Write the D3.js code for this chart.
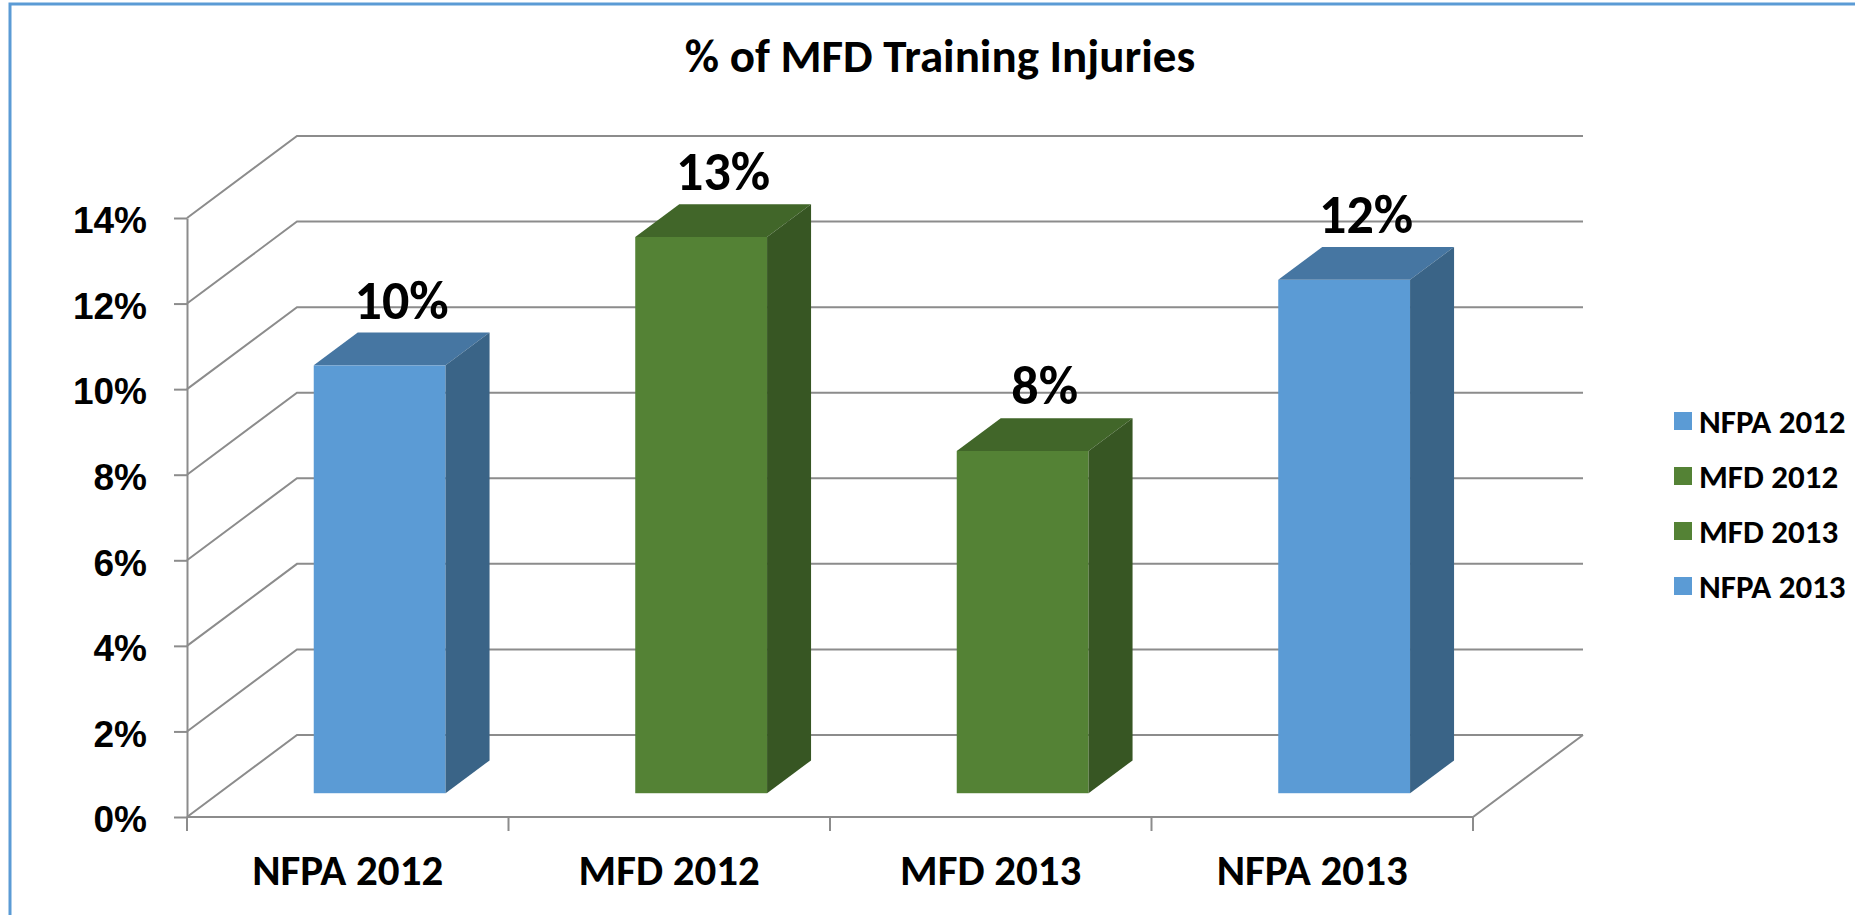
<!DOCTYPE html>
<html lang="en">
<head>
<meta charset="UTF-8" />
<title>% of MFD Training Injuries</title>
<script src="https://cdn.jsdelivr.net/npm/d3@7/dist/d3.min.js"></script>
<style>
  body { margin: 0; background: #fff; }
  svg { display: block; font-family: Carlito, Calibri, Lato, sans-serif; font-weight: 700; }
  .grid { stroke: #8c8c8c; stroke-width: 2; fill: none; }
  .y-axis path, .y-axis line { stroke: #8c8c8c; stroke-width: 2; }
  .y-axis text { font-size: 37px; fill: #000; font-weight: 700; }
  .x-label { font-size: 43px; }
  .bar-label { font-size: 54px; }
  .legend text { font-size: 33px; }
  .title { font-size: 47px; }
</style>
</head>
<body>
<svg id="chart" width="1855" height="915"></svg>
<script>
  // chart data
  const categories = ["NFPA 2012", "MFD 2012", "MFD 2013", "NFPA 2013"];
  const values = [0.10, 0.13, 0.08, 0.12];
  const yTicks = [0, 0.02, 0.04, 0.06, 0.08, 0.10, 0.12, 0.14];
  const barGroup = ["nfpa", "mfd", "mfd", "nfpa"];

  const palette = {
    nfpa: { front: "#5b9bd5", top: "#4676a2", side: "#3a6487" },
    mfd:  { front: "#548235", top: "#416629", side: "#375623" }
  };

  const svg = d3.select("#chart");
  const W = 1855, H = 915;

  // frame around the chart area (runs off right/bottom like the original)
  svg.append("rect")
    .attr("x", 10).attr("y", 4)
    .attr("width", W + 20).attr("height", H + 20)
    .attr("fill", "none").attr("stroke", "#5b9bd5").attr("stroke-width", 3);

  svg.append("text")
    .attr("class", "title")
    .attr("x", 940).attr("y", 72)
    .attr("text-anchor", "middle")
    .text("% of MFD Training Injuries");

  // front plane geometry + oblique depth vector
  const x0 = 187, x1 = 1473;
  const depth = { dx: 110, dy: -82 };
  const dz0 = 0.29, dz1 = 0.69;   // where the bars sit in depth

  const x = d3.scaleBand().domain(categories).range([x0, x1]).padding(0);
  const y = d3.scaleLinear().domain([0, 0.14]).range([817, 218]);

  const grid = svg.append("g");

  // back wall + side wall lines
  yTicks.forEach(t => {
    const yy = y(t);
    grid.append("path").attr("class", "grid")
      .attr("d", `M${x0},${yy}L${x0 + depth.dx},${yy + depth.dy}L${x1 + depth.dx},${yy + depth.dy}`);
  });
  // floor
  grid.append("path").attr("class", "grid")
    .attr("d", `M${x0},${y(0)}L${x1},${y(0)}L${x1 + depth.dx},${y(0) + depth.dy}`);

  // category tick marks
  d3.range(categories.length + 1).forEach(i => {
    const xx = x0 + i * x.bandwidth();
    grid.append("line").attr("class", "grid")
      .attr("x1", xx).attr("x2", xx)
      .attr("y1", y(0)).attr("y2", y(0) + 14);
  });

  // y axis
  const yAxis = svg.append("g")
    .attr("class", "y-axis")
    .attr("transform", `translate(${x0},0)`)
    .call(d3.axisLeft(y).tickValues(yTicks).tickFormat(d3.format(".0%")).tickSize(13).tickSizeOuter(0).tickPadding(27));
  yAxis.selectAll("text").attr("dy", "0.4em");

  // x labels
  svg.selectAll(".x-label")
    .data(categories)
    .join("text")
    .attr("class", "x-label")
    .attr("x", d => x(d) + x.bandwidth() / 2)
    .attr("y", 885)
    .attr("text-anchor", "middle")
    .text(d => d);

  // 3d columns
  const barW = x.bandwidth() * 0.41;
  const bd = { dx: depth.dx * (dz1 - dz0), dy: depth.dy * (dz1 - dz0) };

  const bars = svg.append("g").selectAll("g")
    .data(categories.map((c, i) => ({ c, v: values[i], g: barGroup[i] })))
    .join("g");

  bars.each(function (d) {
    const g = d3.select(this);
    const col = palette[d.g];
    const left = x(d.c) + (x.bandwidth() - barW) / 2 + depth.dx * dz0;
    const right = left + barW;
    const top = y(d.v) + depth.dy * dz0;
    const bottom = y(0) + depth.dy * dz0;

    g.append("rect")
      .attr("x", left).attr("y", top)
      .attr("width", barW).attr("height", bottom - top)
      .attr("fill", col.front);
    g.append("path")
      .attr("d", `M${left},${top}L${right},${top}L${right + bd.dx},${top + bd.dy}L${left + bd.dx},${top + bd.dy}Z`)
      .attr("fill", col.top);
    g.append("path")
      .attr("d", `M${right},${top}L${right + bd.dx},${top + bd.dy}L${right + bd.dx},${bottom + bd.dy}L${right},${bottom}Z`)
      .attr("fill", col.side);

    g.append("text")
      .attr("class", "bar-label")
      .attr("x", left + barW / 2 + bd.dx / 2)
      .attr("y", top + bd.dy - 14)
      .attr("text-anchor", "middle")
      .text(d3.format(".0%")(d.v));
  });

  // legend
  const legend = svg.append("g").attr("class", "legend")
    .selectAll("g")
    .data(categories)
    .join("g")
    .attr("transform", (d, i) => `translate(1674,${421 + i * 55})`);
  legend.append("rect")
    .attr("x", 0).attr("y", -9)
    .attr("width", 18).attr("height", 18)
    .attr("fill", (d, i) => palette[barGroup[i]].front);
  legend.append("text")
    .attr("x", 25).attr("y", 0).attr("dy", "0.36em")
    .text(d => d);
</script>
</body>
</html>
